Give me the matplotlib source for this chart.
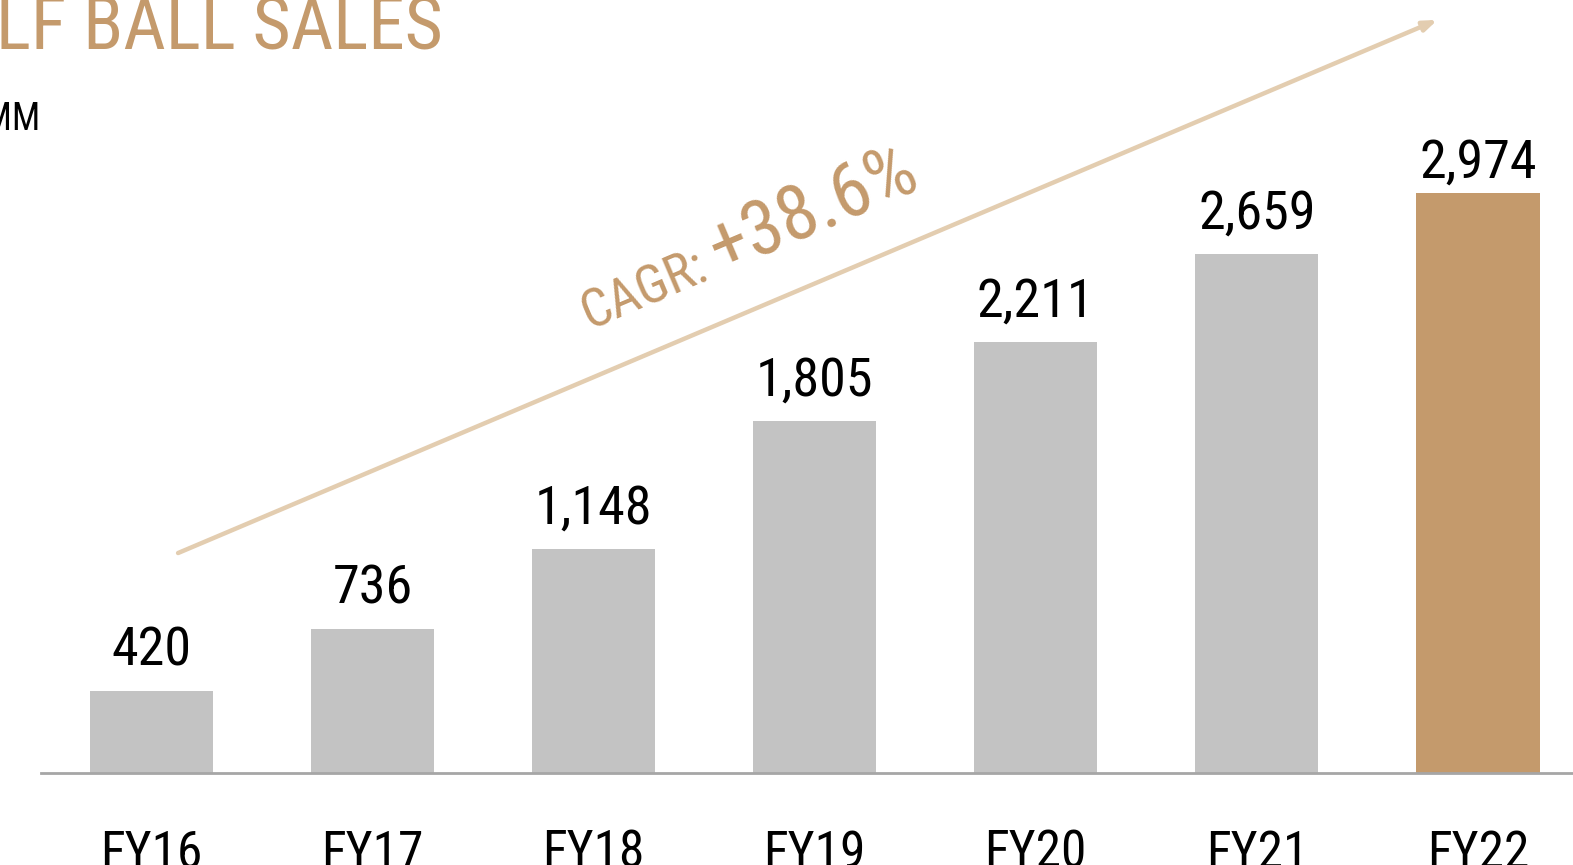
import matplotlib
matplotlib.use("Agg")
import matplotlib.pyplot as plt
from matplotlib import font_manager as fm

# pick a condensed face if one is installed, otherwise Roboto
installed = {(f.name, f.stretch) for f in fm.fontManager.ttflist}
names = {n for n, s in installed}
stretch = 'normal'
if 'Roboto Condensed' in names:
    fam = 'Roboto Condensed'
elif 'Liberation Sans Narrow' in names:
    fam = 'Liberation Sans Narrow'
elif ('DejaVu Sans', 'condensed') in installed:
    fam = 'DejaVu Sans'
    stretch = 'condensed'
else:
    fam = 'Roboto'
plt.rcParams['font.family'] = [fam, 'DejaVu Sans']
plt.rcParams['font.stretch'] = stretch

# data
years = ['FY16', 'FY17', 'FY18', 'FY19', 'FY20', 'FY21', 'FY22']
sales = [420, 736, 1148, 1805, 2211, 2659, 2974]
labels = ['420', '736', '1,148', '1,805', '2,211', '2,659', '2,974']

gray = '#c3c3c3'
tan = '#c49a6c'
arrow_col = '#e3cdb0'
bar_cols = [gray] * 6 + [tan]

W, H = 1573, 865
fig = plt.figure(figsize=(W / 100, H / 100), dpi=100)
ax = fig.add_axes([41 / W, (H - 773) / H, 1 - 41 / W, 773 / H])

x = list(range(len(years)))
ax.bar(x, sales, width=0.557, color=bar_cols, zorder=2)
ax.set_xlim(-0.5, 6.43)
ax.set_ylim(0, 3964)

for i, (v, t) in enumerate(zip(sales, labels)):
    off = 3 if i == len(sales) - 1 else 10.5
    ax.annotate(t, (i, v), xytext=(0, off), textcoords='offset points',
                ha='center', va='bottom', fontsize=39, color='black')

ax.set_xticks(x)
ax.set_xticklabels(years, fontsize=37)
ax.tick_params(axis='x', length=0, pad=40)
ax.set_yticks([])
for s in ['top', 'right', 'left']:
    ax.spines[s].set_visible(False)
ax.spines['bottom'].set_color('#a6a6a6')
ax.spines['bottom'].set_linewidth(2)

# growth arrow
ax.annotate('', xy=(5.817, 3862), xytext=(0.12, 1128),
            arrowprops=dict(arrowstyle='-|>,head_length=0.8,head_width=0.3',
                            color=arrow_col, lw=3.2, shrinkA=0, shrinkB=0),
            zorder=1)

fig.text(590 / W, 1 - 330 / H, 'CAGR:', rotation=23, rotation_mode='anchor',
         ha='left', va='baseline', fontsize=38, color=tan)
fig.text(720 / W, 1 - 272 / H, '+38.6%', rotation=23, rotation_mode='anchor',
         ha='left', va='baseline', fontsize=55, color=tan)

# title and units (cut at the left edge)
fig.text(443 / W, 1 - 50 / H, 'GOLF BALL SALES', ha='right', va='baseline',
         fontsize=53, color=tan)
fig.text(40 / W, 1 - 131 / H, '$MM', ha='right', va='baseline',
         fontsize=27, color='black')

fig.savefig('out.png', dpi=100)
